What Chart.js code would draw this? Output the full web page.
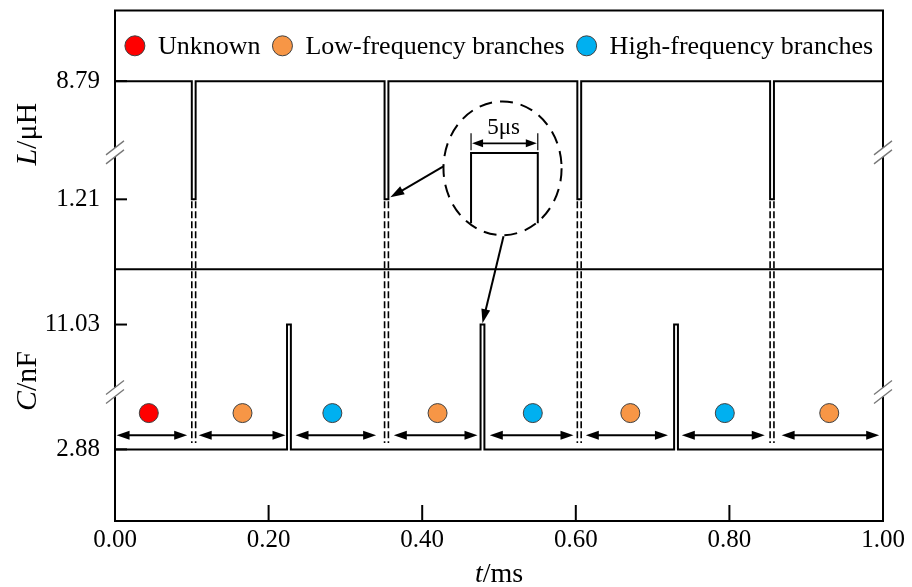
<!DOCTYPE html>
<html><head><meta charset="utf-8">
<script src="https://cdn.jsdelivr.net/npm/chart.js@4/dist/chart.umd.min.js"></script>
<style>html,body{margin:0;padding:0;background:#fff;}#wrap{width:912px;height:587px;}</style>
</head><body><div id="wrap"><canvas id="c" width="912" height="587"></canvas></div>
<script>
// ---------------- data ----------------
const categories = ['Unknown', 'Low-frequency branches', 'High-frequency branches'];
const xTicks = [0.00, 0.20, 0.40, 0.60, 0.80, 1.00];
const lTicks = [8.79, 1.21];
const cTicks = [11.03, 2.88];
// inductance L (μH): change times (ms) and value after each change
const lTimes  = [0, 0.100, 0.105, 0.351, 0.356, 0.602, 0.607, 0.853, 0.858, 1.00];
const lValues = [8.79, 1.21, 8.79, 1.21, 8.79, 1.21, 8.79, 1.21, 8.79, 8.79];
// capacitance C (nF)
const cTimes  = [0, 0.224, 0.229, 0.476, 0.481, 0.728, 0.733, 1.00];
const cValues = [2.88, 11.03, 2.88, 11.03, 2.88, 11.03, 2.88, 2.88];
// branch intervals (ms) and their category
const segStart = [0.002, 0.109, 0.235, 0.363, 0.488, 0.613, 0.738, 0.868];
const segEnd   = [0.094, 0.222, 0.340, 0.472, 0.597, 0.720, 0.846, 0.995];
const segMark  = [0.044, 0.166, 0.283, 0.420, 0.544, 0.671, 0.794, 0.930];
const segCategory = [0, 1, 2, 1, 2, 1, 2, 1];

// ---------------- styles / annotation placement ----------------
const catColors = ['#FF0000', '#F79646', '#00B0F0'];
const SERIF = "'Liberation Serif', 'Times New Roman', serif";
const DOT_LEVEL_C = 5.25, ARROW_LEVEL_C = 3.81, DASH_END_C = 3.3;
const BREAK_L = 4.22, BREAK_C = 6.62;

const lData = lTimes.map((t, i) => ({x: t, y: lValues[i]}));
const cData = cTimes.map((t, i) => ({x: t, y: cValues[i]}));
const dotData = segMark.map(t => ({x: t, y: DOT_LEVEL_C}));
const dipEdges = [];
lValues.forEach((v, i) => { if (v === lTicks[1] && i + 1 < lTimes.length) dipEdges.push(lTimes[i], lTimes[i + 1]); });

function seg(ctx, x1, y1, x2, y2) { ctx.beginPath(); ctx.moveTo(x1, y1); ctx.lineTo(x2, y2); ctx.stroke(); }
function head(ctx, x1, y1, x2, y2, len, hw) {
  const a = Math.atan2(y2 - y1, x2 - x1), c = Math.cos(a), s = Math.sin(a);
  ctx.beginPath();
  ctx.moveTo(x2, y2);
  ctx.lineTo(x2 - len * c - hw * s, y2 - len * s + hw * c);
  ctx.lineTo(x2 - len * c + hw * s, y2 - len * s - hw * c);
  ctx.closePath(); ctx.fill();
}
function partsText(ctx, parts, size, cx, cy, rot) {
  ctx.save(); ctx.translate(cx, cy); if (rot) ctx.rotate(rot);
  ctx.textBaseline = 'middle'; ctx.textAlign = 'left';
  let w = 0;
  parts.forEach(p => { ctx.font = (p[1] ? 'italic ' : '') + size + 'px ' + SERIF; w += ctx.measureText(p[0]).width; });
  let x = -w / 2;
  parts.forEach(p => { ctx.font = (p[1] ? 'italic ' : '') + size + 'px ' + SERIF; ctx.fillText(p[0], x, 0); x += ctx.measureText(p[0]).width; });
  ctx.restore();
}

const deco = {
  id: 'deco',
  afterDatasetsDraw(chart) {
    const {ctx, chartArea: ca, scales} = chart;
    const xS = scales.x, yL = scales.yL, yC = scales.yC;
    ctx.save();
    ctx.strokeStyle = '#000'; ctx.fillStyle = '#000'; ctx.lineCap = 'butt';
    // dashed guide lines
    ctx.lineWidth = 1.6; ctx.setLineDash([7, 3]);
    dipEdges.forEach(t => {
      const x = xS.getPixelForValue(t);
      seg(ctx, x, yL.getPixelForValue(lTicks[1]) + 2, x, yC.getPixelForValue(DASH_END_C));
    });
    ctx.setLineDash([]);
    // frame
    ctx.lineWidth = 2;
    ctx.strokeRect(ca.left, ca.top, ca.right - ca.left, ca.bottom - ca.top);
    seg(ctx, ca.left, yL.bottom, ca.right, yL.bottom);
    // inward ticks
    xTicks.forEach(t => { const x = xS.getPixelForValue(t); seg(ctx, x, ca.bottom, x, ca.bottom - 16); });
    lTicks.forEach(v => { const y = yL.getPixelForValue(v); seg(ctx, ca.left, y, ca.left + 12, y); });
    cTicks.forEach(v => { const y = yC.getPixelForValue(v); seg(ctx, ca.left, y, ca.left + 12, y); });
    // axis breaks
    [[yL, BREAK_L], [yC, BREAK_C]].forEach(([sc, v]) => {
      const yc = sc.getPixelForValue(v);
      [ca.left, ca.right].forEach(x => {
        ctx.fillStyle = '#fff'; ctx.fillRect(x - 3, yc - 4.5, 6, 9);
        ctx.strokeStyle = '#777'; ctx.lineWidth = 1.3;
        [-4.5, 4.5].forEach(d => seg(ctx, x - 9, yc + d + 7, x + 9, yc + d - 7));
      });
    });
    ctx.strokeStyle = '#000'; ctx.fillStyle = '#000';
    // branch interval arrows
    ctx.lineWidth = 2;
    const ya = yC.getPixelForValue(ARROW_LEVEL_C);
    segStart.forEach((s, i) => {
      const x1 = xS.getPixelForValue(s), x2 = xS.getPixelForValue(segEnd[i]);
      seg(ctx, x1 + 8, ya, x2 - 8, ya);
      head(ctx, x2 - 10, ya, x1, ya, 13, 4.5);
      head(ctx, x1 + 10, ya, x2, ya, 13, 4.5);
    });
    // legend
    ctx.font = '26px ' + SERIF; ctx.textBaseline = 'middle'; ctx.textAlign = 'left';
    const r = 10, gap = 13, itemGap = 12;
    const widths = categories.map(c => ctx.measureText(c).width);
    const total = widths.reduce((a, w) => a + 2 * r + gap + w, 0) + itemGap * (categories.length - 1);
    let lx = (ca.left + ca.right) / 2 - total / 2;
    const ly = (ca.top + yL.getPixelForValue(lTicks[0])) / 2;
    categories.forEach((c, i) => {
      ctx.beginPath(); ctx.arc(lx + r, ly, r, 0, Math.PI * 2);
      ctx.fillStyle = catColors[i]; ctx.fill();
      ctx.strokeStyle = '#404040'; ctx.lineWidth = 1; ctx.stroke();
      ctx.fillStyle = '#000';
      ctx.fillText(c, lx + 2 * r + gap, ly + 1);
      lx += 2 * r + gap + widths[i] + itemGap;
    });
    // axis titles
    ctx.fillStyle = '#000';
    partsText(ctx, [['L', true], ['/μH', false]], 30, 28, (yL.getPixelForValue(lTicks[0]) + yL.getPixelForValue(lTicks[1])) / 2 - 6, -Math.PI / 2);
    partsText(ctx, [['C', true], ['/nF', false]], 30, 28, (yC.getPixelForValue(cTicks[0]) + yC.getPixelForValue(cTicks[1])) / 2 - 6, -Math.PI / 2);
    partsText(ctx, [['t', true], ['/ms', false]], 28, (ca.left + ca.right) / 2, ca.bottom + 54, 0);
    // zoom inset
    const ex = xS.getPixelForValue(0.5046), ey = yL.getPixelForValue(3.20);
    const erx = xS.getPixelForValue(0.5046 + 0.0769) - ex, ery = yL.getPixelForValue(3.20 - 4.29) - ey;
    ctx.strokeStyle = '#000'; ctx.lineWidth = 2; ctx.setLineDash([13, 8]);
    ctx.beginPath(); ctx.ellipse(ex, ey, erx, ery, 0, 0, Math.PI * 2); ctx.stroke();
    ctx.setLineDash([]);
    const rx1 = xS.getPixelForValue(0.4636), rx2 = xS.getPixelForValue(0.5505);
    const rt = yL.getPixelForValue(4.18), rb = yL.getPixelForValue(-0.33);
    ctx.beginPath(); ctx.moveTo(rx1, rb); ctx.lineTo(rx1, rt); ctx.lineTo(rx2, rt); ctx.lineTo(rx2, rb); ctx.stroke();
    ctx.lineWidth = 1.2;
    const et = yL.getPixelForValue(5.44), eb = yL.getPixelForValue(4.35), dy = yL.getPixelForValue(4.80);
    seg(ctx, rx1, et, rx1, eb); seg(ctx, rx2, et, rx2, eb);
    ctx.lineWidth = 1.6;
    seg(ctx, rx1 + 8, dy, rx2 - 8, dy);
    head(ctx, rx2, dy, rx1 + 1, dy, 11, 4); head(ctx, rx1, dy, rx2 - 1, dy, 11, 4);
    ctx.font = '23px ' + SERIF; ctx.textAlign = 'center'; ctx.textBaseline = 'middle';
    ctx.fillText('5μs', ex + 1, yL.getPixelForValue(5.78));
    // pointer arrows
    ctx.lineWidth = 2;
    let ax1 = xS.getPixelForValue(0.4276), ay1 = yL.getPixelForValue(3.32);
    let ax2 = xS.getPixelForValue(0.3585), ay2 = yL.getPixelForValue(1.34);
    let ang = Math.atan2(ay2 - ay1, ax2 - ax1);
    seg(ctx, ax1, ay1, ax2 - 10 * Math.cos(ang), ay2 - 10 * Math.sin(ang));
    head(ctx, ax1, ay1, ax2, ay2, 14, 4.5);
    ax1 = xS.getPixelForValue(0.5059); ay1 = yL.getPixelForValue(-1.16);
    ax2 = xS.getPixelForValue(0.4785); ay2 = yC.getPixelForValue(11.12);
    ang = Math.atan2(ay2 - ay1, ax2 - ax1);
    seg(ctx, ax1, ay1, ax2 - 10 * Math.cos(ang), ay2 - 10 * Math.sin(ang));
    head(ctx, ax1, ay1, ax2, ay2, 14, 4.5);
    ctx.restore();
  }
};

const tickFont = {family: SERIF, size: 25};
const yFit = a => { a.width = 115; a.paddingTop = 0; a.paddingBottom = 0; };
new Chart(document.getElementById('c'), {
  type: 'line',
  data: {
    datasets: [
      {label: 'L', data: lData, yAxisID: 'yL', stepped: true, borderColor: '#000', borderWidth: 2,
       pointRadius: 0, fill: false, borderJoinStyle: 'miter'},
      {label: 'C', data: cData, yAxisID: 'yC', stepped: true, borderColor: '#000', borderWidth: 2,
       pointRadius: 0, fill: false, borderJoinStyle: 'miter'},
      {type: 'scatter', label: 'branches', data: dotData, yAxisID: 'yC', showLine: false,
       pointRadius: 9.5, pointHoverRadius: 9.5, pointBorderWidth: 1, pointBorderColor: '#404040',
       pointBackgroundColor: segCategory.map(k => catColors[k])}
    ]
  },
  options: {
    responsive: false, animation: false, devicePixelRatio: 1,
    layout: {padding: {left: 0, right: 29, top: 10, bottom: 0}},
    plugins: {legend: {display: false}, tooltip: {enabled: false}},
    events: [],
    scales: {
      x: {type: 'linear', position: 'bottom', min: 0, max: 1,
          afterBuildTicks: a => { a.ticks = xTicks.map(v => ({value: v})); },
          afterFit: a => { a.height = 66; a.paddingLeft = 0; a.paddingRight = 0; },
          grid: {display: false, drawTicks: false}, border: {display: false},
          ticks: {autoSkip: false, maxRotation: 0, padding: 4, color: '#000', font: tickFont, callback: v => Number(v).toFixed(2)}},
      yL: {type: 'linear', position: 'left', stack: 'panels', stackWeight: 259, weight: 1,
           min: -3.275, max: 13.32,
           afterBuildTicks: a => { a.ticks = lTicks.map(v => ({value: v})); },
           afterFit: yFit,
           grid: {display: false, drawTicks: false}, border: {display: false},
           ticks: {autoSkip: false, padding: 15, color: '#000', font: tickFont, callback: v => Number(v).toFixed(2)}},
      yC: {type: 'linear', position: 'left', stack: 'panels', stackWeight: 252, weight: 0,
           min: -1.795, max: 14.64,
           afterBuildTicks: a => { a.ticks = cTicks.map(v => ({value: v})); },
           afterFit: yFit,
           grid: {display: false, drawTicks: false}, border: {display: false},
           ticks: {autoSkip: false, padding: 15, color: '#000', font: tickFont, callback: v => Number(v).toFixed(2)}}
    }
  },
  plugins: [deco]
});
</script></body></html>
